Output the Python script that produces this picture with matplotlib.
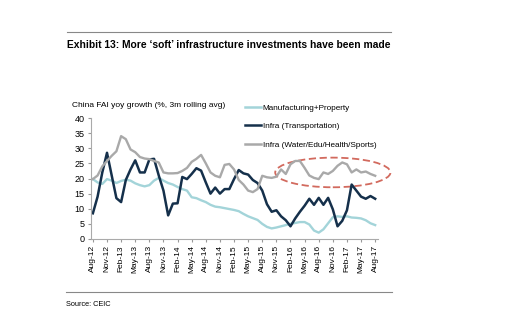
import numpy as np
import pandas as pd
import matplotlib
matplotlib.use("Agg")
import matplotlib.pyplot as plt
from matplotlib.patches import Ellipse
from matplotlib.lines import Line2D

plt.rcParams['font.family'] = ['Liberation Sans', 'DejaVu Sans']

# monthly series, Aug-12 .. Aug-17 (% yoy, 3m rolling avg)
months = pd.date_range('2012-08-01', periods=61, freq='MS')

mfg_property = [19.8, 18.7, 18.2, 19.8, 19.3, 18.5, 19.2, 19.6, 19.3, 18.4,
                17.8, 17.4, 17.8, 19.3, 20.2, 19.3, 18.5, 18.0, 17.2, 16.5,
                16.0, 13.8, 13.5, 12.8, 12.2, 11.3, 10.7, 10.5, 10.2, 9.9,
                9.6, 9.2, 8.3, 7.5, 6.9, 6.3, 5.0, 4.0, 3.5, 3.8,
                4.2, 4.6, 5.0, 5.3, 5.6, 5.6, 4.8, 2.8, 2.1, 3.2,
                5.2, 7.2, 7.5, 7.3, 7.5, 7.1, 7.0, 6.8, 6.2, 5.2, 4.6]

infra_transport = [8.5, 14.0, 22.0, 28.5, 21.0, 13.5, 12.2, 19.5, 23.0, 26.0,
                   22.0, 22.0, 26.3, 26.5, 21.0, 16.0, 7.8, 11.7, 11.8, 20.5,
                   19.8, 21.5, 23.4, 22.6, 18.7, 15.0, 17.0, 15.0, 16.5, 16.5,
                   19.8, 22.8, 21.7, 21.3, 19.5, 18.5, 16.0, 11.5, 9.0, 9.5,
                   7.5, 6.2, 4.2, 6.8, 9.0, 11.0, 13.3, 11.3, 13.6, 11.3,
                   13.6, 9.8, 4.2, 6.0, 9.5, 18.0, 16.0, 14.0, 13.3, 14.2, 13.3]

infra_soft = [19.8, 21.0, 24.0, 25.8, 27.5, 29.0, 34.0, 33.0, 29.6, 28.7,
              27.1, 26.6, 26.4, 25.8, 25.3, 22.0, 21.7, 21.7, 21.8, 22.5,
              23.5, 25.5, 26.5, 27.8, 25.0, 22.0, 20.9, 20.4, 24.5, 24.8,
              23.0, 19.5, 18.0, 16.0, 15.5, 16.5, 20.9, 20.4, 20.2, 20.6,
              23.0, 21.5, 24.7, 25.8, 25.8, 23.5, 21.0, 20.2, 19.8, 22.0,
              21.5, 22.5, 24.2, 25.3, 24.7, 22.0, 23.0, 22.0, 22.3, 21.5, 20.9]

series_names = ['Manufacturing+Property', 'Infra (Transportation)',
                'Infra (Water/Edu/Health/Sports)']
colors = ['#a3d4d9', '#15304b', '#a9a9a9']

W, H = 521, 327
fig = plt.figure(figsize=(W / 100, H / 100), dpi=100)
ax = fig.add_axes([91 / W, 1 - 239 / H, 287 / W, 121 / H])

x = np.arange(len(months))
ax.plot(x, mfg_property, color=colors[0], lw=1.7, label=series_names[0])
ax.plot(x, infra_transport, color=colors[1], lw=1.8, label=series_names[1])
ax.plot(x, infra_soft, color=colors[2], lw=1.7, label=series_names[2])

ax.set_xlim(-0.4, 60.6)
ax.set_ylim(0, 40)
ax.set_yticks(range(0, 41, 5))
ax.set_xticks(x[::3])
ax.set_xticklabels(months[::3].strftime('%b-%y'), rotation=90, fontsize=6)
ax.tick_params(axis='y', labelsize=6.5, length=2.5, color='#999999', pad=2)
ax.tick_params(axis='x', length=2.5, color='#999999', pad=2)
for s in ['top', 'right']:
    ax.spines[s].set_visible(False)
for s in ['left', 'bottom']:
    ax.spines[s].set_color('#aaaaaa')
    ax.spines[s].set_linewidth(0.8)

# highlight of the soft-infra line
ell = Ellipse((51.0, 22.0), 24.5, 9.8, fill=False, ls=(0, (4, 2)),
              ec='#d26a5e', lw=1.3, clip_on=False)
ax.add_patch(ell)

fig.text(72 / W, 1 - 105 / H, 'China FAI yoy growth (%, 3m rolling avg)',
         fontsize=6, va='center')

handles = [Line2D([], [], color=c, lw=1.8) for c in colors]
fig.legend(handles, series_names, loc='upper left',
           bbox_to_anchor=(245 / W, 1 - 104 / H), frameon=False,
           fontsize=5.9, handlelength=2.0, handletextpad=0.15,
           labelspacing=1.3, borderpad=0, borderaxespad=0)

# report framing
narrow = ['Liberation Sans Narrow', 'Liberation Sans', 'DejaVu Sans']
fig.add_artist(Line2D([67 / W, 391 / W], [1 - 32 / H] * 2, color='#888888', lw=0.8))
fig.text(67 / W, 1 - 45 / H,
         'Exhibit 13: More \u2018soft\u2019 infrastructure investments have been made',
         fontsize=7.4, fontweight='bold', family=narrow, va='center')
fig.add_artist(Line2D([66 / W, 392 / W], [1 - 292 / H] * 2, color='#888888', lw=0.8))
fig.text(66 / W, 1 - 305 / H, 'Source: CEIC', fontsize=5.3, family=narrow,
         va='center')

fig.savefig('out.png', dpi=100)
